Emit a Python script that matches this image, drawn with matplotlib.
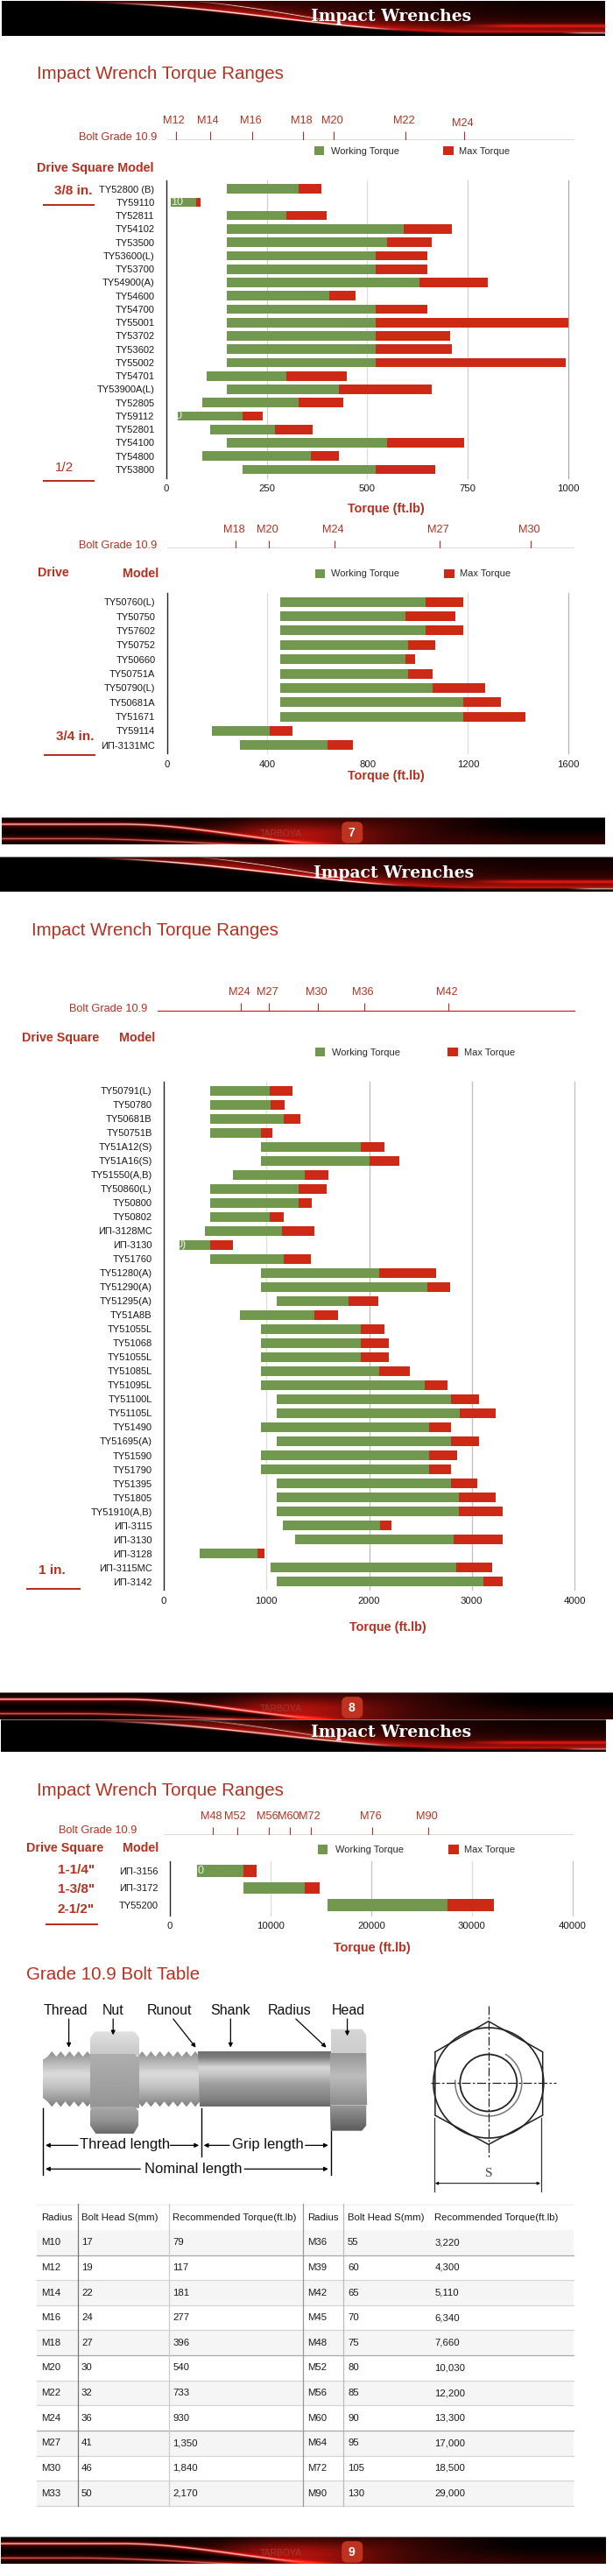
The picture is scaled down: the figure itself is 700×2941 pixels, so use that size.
import numpy as np
import matplotlib
matplotlib.use("Agg")
import matplotlib.pyplot as plt
from matplotlib.patches import Polygon, Rectangle, FancyBboxPatch, Circle, Arc

plt.rcParams['font.family'] = ['Liberation Sans', 'DejaVu Sans']

# ---------- data ----------
models_a = ["TY52800 (B)", "TY59110", "TY52811", "TY54102", "TY53500", "TY53600(L)", "TY53700", "TY54900(A)",
            "TY54600", "TY54700", "TY55001", "TY53702", "TY53602", "TY55002", "TY54701", "TY53900A(L)",
            "TY52805", "TY59112", "TY52801", "TY54100", "TY54800", "TY53800"]
start_a = [150, 12, 150, 150, 150, 150, 150, 150, 150, 150, 150, 150, 150, 150, 100, 150, 90, 30, 110, 150, 90, 190]
work_a = [330, 74, 300, 590, 550, 520, 520, 630, 405, 520, 520, 520, 520, 520, 300, 430, 330, 190, 270, 550, 360, 520]
max_a = [385, 85, 400, 710, 660, 650, 650, 800, 470, 650, 1000, 705, 710, 993, 450, 660, 440, 240, 365, 740, 430, 670]
bolt_a = ["M12", "M14", "M16", "M18", "M20", "M22", "M24"]
bolt_at_a = [24, 109, 214, 340, 417, 596, 741]

models_b = ["TY50760(L)", "TY50750", "TY57602", "TY50752", "TY50660", "TY50751A", "TY50790(L)", "TY50681A",
            "TY51671", "TY59114", "ИП-3131MC"]
start_b = [450, 450, 450, 450, 450, 450, 450, 450, 450, 180, 290]
work_b = [1030, 950, 1030, 960, 950, 960, 1060, 1180, 1180, 410, 640]
max_b = [1180, 1150, 1180, 1070, 990, 1060, 1270, 1330, 1430, 500, 740]
bolt_b = ["M18", "M20", "M24", "M27", "M30"]
bolt_at_b = [273, 407, 669, 1087, 1451]

models_c = ["TY50791(L)", "TY50780", "TY50681B", "TY50751B", "TY51A12(S)", "TY51A16(S)", "TY51550(A,B)", "TY50860(L)",
            "TY50800", "TY50802", "ИП-3128MC", "ИП-3130", "TY51760", "TY51280(A)", "TY51290(A)", "TY51295(A)",
            "TY51A8B", "TY51055L", "TY51068", "TY51055L", "TY51085L", "TY51095L", "TY51100L", "TY51105L",
            "TY51490", "TY51695(A)", "TY51590", "TY51790", "TY51395", "TY51805", "TY51910(A,B)", "ИП-3115",
            "ИП-3130", "ИП-3128", "ИП-3115MC", "ИП-3142"]
start_c = [450, 450, 450, 450, 950, 950, 670, 450, 450, 450, 400, 150, 450, 950, 950, 1100, 740, 950, 950, 950, 950,
           950, 1100, 1100, 950, 1100, 950, 950, 1100, 1100, 1100, 1160, 1280, 350, 1040, 1100]
work_c = [1030, 1040, 1170, 950, 1920, 2000, 1370, 1310, 1310, 1030, 1150, 450, 1170, 2100, 2570, 1800, 1470, 1920,
          1920, 1920, 2100, 2540, 2800, 2880, 2580, 2800, 2580, 2580, 2800, 2870, 2870, 2110, 2820, 910, 2850, 3110]
max_c = [1250, 1180, 1330, 1060, 2150, 2290, 1600, 1590, 1440, 1170, 1470, 670, 1430, 2650, 2790, 2090, 1700, 2150,
         2190, 2190, 2400, 2760, 3070, 3230, 2800, 3070, 2860, 2800, 3050, 3230, 3300, 2220, 3300, 980, 3200, 3300]
bolt_c = ["M24", "M27", "M30", "M36", "M42"]
bolt_at_c = [751, 1024, 1505, 1955, 2775]

models_d = ["ИП-3156", "ИП-3172", "TY55200"]
start_d = [2700, 7300, 15700]
work_d = [7300, 13400, 27600]
max_d = [8600, 14900, 32200]
bolt_d = ["M48", "M52", "M56", "M60", "M72", "M76", "M90"]
bolt_at_d = [4318, 6673, 9853, 11933, 14053, 20138, 25672]

ticks_a = [0, 250, 500, 750, 1000]
ticks_b = [0, 400, 800, 1200, 1600]
ticks_c = [0, 1000, 2000, 3000, 4000]
ticks_d = [0, 10000, 20000, 30000, 40000]

table_header = ["Radius", "Bolt Head S(mm)", "Recommended Torque(ft.lb)"]
radius_l = ["M10", "M12", "M14", "M16", "M18", "M20", "M22", "M24", "M27", "M30", "M33"]
head_l = ["17", "19", "22", "24", "27", "30", "32", "36", "41", "46", "50"]
torque_l = ["79", "117", "181", "277", "396", "540", "733", "930", "1,350", "1,840", "2,170"]
radius_r = ["M36", "M39", "M42", "M45", "M48", "M52", "M56", "M60", "M64", "M72", "M90"]
head_r = ["55", "60", "65", "70", "75", "80", "85", "90", "95", "105", "130"]
torque_r = ["3,220", "4,300", "5,110", "6,340", "7,660", "10,030", "12,200", "13,300", "17,000", "18,500", "29,000"]

# ---------- page ----------
W, H = 700, 2941
RED = "#b7301f"
GREEN = "#729850"
BAR_RED = "#cc2a17"
fig = plt.figure(figsize=(W / 100, H / 100), dpi=100, facecolor="white")


def px_axes(l, t, r, b):
    return fig.add_axes([l / W, 1 - b / H, (r - l) / W, (b - t) / H])


page = fig.add_axes([0, 0, 1, 1], zorder=5)
page.patch.set_visible(False)
page.axis("off")


def txt(x, y, s, size=8, color="#1a1a1a", ha="left", va="center", weight="normal", **kw):
    return page.text(x, y, s, fontsize=size, color=color, ha=ha, va=va, fontweight=weight, **kw)


def smooth(t):
    t = np.clip(t, 0, 1)
    return t * t * (3 - 2 * t)


def glow(v, c, w):
    return np.exp(-((v - c) / w) ** 2)


def header_img(w=700, h=40):
    u, v = np.meshgrid(np.linspace(0, 1, w), np.linspace(0, 1, h))
    b = 0.9 * smooth((u - 0.1) / 0.68)
    d = v - b
    fade = np.clip((u - 0.08) / 0.3, 0, 1)
    above = (0.12 + 0.72 * np.exp(np.minimum(d, 0) / 0.2)) * fade
    below = 0.8 * np.exp(-np.maximum(d, 0) / 0.03) * fade
    r = np.where(d < 0, above, below)
    r = r * (1 - 0.6 * smooth((u - 0.62) / 0.3) * (1 - v))
    r += 0.55 * glow(v, 0.72, 0.05) * smooth((u - 0.74) / 0.12)
    g = 0.1 * r
    bl = 0.07 * r
    w1 = glow(v, 0.04 + 0.86 * smooth((u - 0.14) / 0.62), 0.022) * smooth((u - 0.15) / 0.15) * (1 - smooth((u - 0.58) / 0.1))
    w2 = glow(v, 0.98 * smooth((u - 0.25) / 0.5) - 0.05, 0.015) * smooth((u - 0.3) / 0.1) * (1 - smooth((u - 0.5) / 0.1))
    w3 = glow(v, 0.93, 0.02) * smooth((u - 0.92) / 0.05)
    white = np.clip(w1 + 0.8 * w2 + 0.7 * w3, 0, 1)
    img = np.dstack([r, g, bl])
    img = img * (1 - white[..., None]) + white[..., None] * np.array([1, 0.9, 0.88])
    return np.clip(img, 0, 1)


def footer_img(w=700, h=31):
    u, v = np.meshgrid(np.linspace(0, 1, w), np.linspace(0, 1, h))
    left = 0.16 * (1 - smooth((u - 0.1) / 0.4)) * (0.3 + 0.7 * glow(v, 0.55, 0.4))
    c1 = 0.5 * glow(u, 0.48, 0.14) * smooth(v * 1.4 + 0.1)
    c2 = 0.2 * (1 - smooth((u - 0.62) / 0.28)) * smooth((u - 0.3) / 0.2)
    c3 = 0.16 * smooth((u - 0.65) / 0.2) * smooth((v - 0.3) / 0.7)
    s1c = 0.25 + 0.8 * smooth((u - 0.2) / 0.38)
    s2c = 0.8 + 0.3 * smooth((u - 0.12) / 0.4)
    s1 = 0.55 * glow(v, s1c, 0.07) * (1 - smooth((u - 0.5) / 0.08))
    s2 = 0.45 * glow(v, s2c, 0.06) * (1 - smooth((u - 0.42) / 0.08))
    black = glow(v, 0.55 + 0.4 * smooth((u - 0.15) / 0.38), 0.12) * (1 - smooth((u - 0.42) / 0.08))
    r = (left + c1 + c2 + c3) * (1 - 0.9 * black) + s1 + s2
    img = np.dstack([r, 0.1 * r, 0.07 * r])
    white = np.clip(0.8 * glow(v, s1c, 0.03) * (1 - smooth((u - 0.42) / 0.12))
                    + 0.4 * glow(v, s2c, 0.025) * (1 - smooth((u - 0.4) / 0.1)), 0, 1)
    img = img * (1 - white[..., None]) + white[..., None] * np.array([1, 0.85, 0.82])
    return np.clip(img, 0, 1)


def header(l, r, t, b, cx, cy):
    page.imshow(header_img(), extent=(l, r, b, t), aspect="auto", zorder=1, interpolation="bilinear")
    page.add_patch(Rectangle((l, t), r - l, 0.8, fc="#777777", ec="none", zorder=2))
    txt(cx, cy, "Impact Wrenches", size=13.5, color="white", ha="center", weight="bold",
        family="DejaVu Serif", zorder=3)


def footer(l, r, t, b, number):
    page.imshow(footer_img(), extent=(l, r, b, t), aspect="auto", zorder=1, interpolation="bilinear")
    page.add_patch(Rectangle((l, t), r - l, 0.8, fc="#777777", ec="none", zorder=2))
    txt(321, t + 19, "TARBOYA", size=7.5, color="#9b3a30", ha="center", zorder=3)
    page.add_patch(FancyBboxPatch((393, t + 8), 18.5, 19, boxstyle="round,pad=0,rounding_size=3.5",
                                  fc="#bd3320", ec="#bd3320", lw=4, zorder=3))
    txt(401, t + 18, number, size=10, color="white", ha="center", weight="bold", zorder=4)


header(2.3, 691, 1.5, 40.7, 447, 19)
footer(2.3, 691, 933, 964, "7")
header(0, 700, 978, 1017.7, 450, 997)
footer(0, 700, 1932, 1963, "8")
header(1.4, 692, 1963, 2000, 447, 1978)
footer(1.4, 692, 2896, 2926.7, "9")

# ---------- charts ----------
def chart(rect, models, start, work, top, ticks, first, step, bar_px, grid, tags=None, pad=9.5):
    l, t, r, b = rect
    ax = px_axes(l, t, r, b)
    n = len(models)
    y = np.arange(n)
    last = first + (n - 1) * step
    ax.set_ylim(n - 1 + (b - last) / step, -(first - t) / step)
    ax.set_xlim(ticks[0], ticks[-1])
    ax.patch.set_visible(False)
    for tick, c in zip(ticks[1:], grid):
        ax.axvline(tick, color=c, lw=0.9, zorder=0, clip_on=False)
    start, work, top = map(np.array, (start, work, top))
    greens = ax.barh(y, work - start, left=start, height=bar_px / step, color=GREEN, zorder=2)
    ax.barh(y, top - work, left=work, height=bar_px / step, color=BAR_RED, zorder=2)
    for i, (s, off) in (tags or {}).items():
        tt = ax.annotate(s, (start[i], i), xytext=(off, 0), textcoords="offset pixels", color="#e8f0e0",
                         fontsize=9, va="center", ha="left", zorder=3)
        tt.set_clip_path(greens[i])
    ax.set_yticks(y, models)
    ax.set_xticks(ticks, [str(k) for k in ticks])
    ax.tick_params(axis="y", length=0, pad=pad, labelsize=8, labelcolor="#1a1a1a")
    ax.tick_params(axis="x", length=0, pad=5.5, labelsize=8.2, labelcolor="#1a1a1a")
    for s in ("top", "right", "bottom"):
        ax.spines[s].set_visible(False)
    ax.spines["left"].set_linewidth(1.0)
    ax.spines["left"].set_color("#222222")
    return ax


def bolt_scale(x0px, pxperunit, line_l, line_r, y, tick_len, labels, pos, label_y, grade_r, grade_y, lifts=None):
    ax = px_axes(line_l, y - tick_len, line_r, y + 0.6)
    ax.set_xlim((line_l - x0px) / pxperunit, (line_r - x0px) / pxperunit)
    ax.set_ylim(0, 1)
    ax.axis("off")
    ax.patch.set_visible(False)
    ax.axhline(0.03, color=RED, lw=1.0)
    ax.vlines(pos, 0, 1, color=RED, lw=0.8)
    for k, (name, p) in enumerate(zip(labels, pos)):
        drop = (lifts or {}).get(k, 0)
        ax.annotate(name, (p, 1), xytext=(-2, (y - tick_len - label_y - drop)), textcoords="offset pixels",
                    color=RED, fontsize=9.2, ha="center", va="center", annotation_clip=False)
    txt(grade_r, grade_y, "Bolt Grade 10.9", size=9.2, color=RED, ha="right")


def legend(gx, rx, ytop, ybot, gt, rt, ty):
    page.add_patch(Rectangle((gx, ytop), 11, ybot - ytop, fc=GREEN, ec="none"))
    page.add_patch(Rectangle((rx, ytop), 12, ybot - ytop, fc=BAR_RED, ec="none"))
    txt(gt, ty, "Working Torque", size=8, color="#2a2a2a")
    txt(rt, ty, "Max Torque", size=8, color="#2a2a2a")


def underline(x0, x1, y):
    page.add_patch(Rectangle((x0, y - 1), x1 - x0, 2, fc=RED, ec="none"))


# chart A
chart((189.7, 206, 649, 545.7), models_a, start_a, work_a, max_a, ticks_a, 215.7, 15.25, 10.6,
      ["#cfcfcf", "#dddddd", "#cfcfcf", "#aaaaaa"], tags={1: ("10", 0), 17: ("0", -3)})
bolt_scale(189.7, 459.3 / 1000, 190.6, 656, 159.3, 9, bolt_a, bolt_at_a, 138, 179, 156.7, lifts={6: 2.5})
txt(42, 85, "Impact Wrench Torque Ranges", size=14.8, color=RED, va="center")
txt(42, 191.7, "Drive Square Model", size=10.3, color=RED, weight="bold")
legend(359, 506, 167, 177, 377.6, 524, 172.5)
txt(62.5, 218.5, "3/8 in.", size=11, color=RED, weight="bold")
underline(48.8, 108.4, 234)
txt(63, 534, "1/2", size=11, color=RED)
underline(48.8, 108.4, 548.7)
txt(441, 580.7, "Torque (ft.lb)", size=10.4, color=RED, ha="center", weight="bold")

# chart B
chart((190.6, 677.3, 649, 860), models_b, start_b, work_b, max_b, ticks_b, 687.3, 16.34, 11,
      ["#dddddd", "#ffffff", "#dddddd", "#b5b5b5"])
bolt_scale(190.6, 458.4 / 1600, 190.6, 656, 625.3, 8, bolt_b, bolt_at_b, 604.7, 179, 623.3)
txt(43, 654, "Drive", size=10.3, color=RED, weight="bold")
txt(140, 655.3, "Model", size=10.3, color=RED, weight="bold")
legend(360, 507, 650, 660, 378.5, 525, 655.3)
txt(63.5, 840.7, "3/4 in.", size=11, color=RED, weight="bold")
underline(49.7, 109.3, 861.7)
txt(441, 885.7, "Torque (ft.lb)", size=10.4, color=RED, ha="center", weight="bold")

# chart C
chart((187, 1235, 656, 1815), models_c, start_c, work_c, max_c, ticks_c, 1245, 16.02, 11,
      ["#dddddd", "#bdbdbd", "#bdbdbd", "#bdbdbd"], tags={11: ("0)", -3)})
bolt_scale(187, 469 / 4000, 180.2, 656.7, 1154, 9, bolt_c, bolt_at_c, 1132.7, 168.5, 1151.7)
txt(36, 1063, "Impact Wrench Torque Ranges", size=14.8, color=RED)
txt(24.8, 1185, "Drive Square", size=10.3, color=RED, weight="bold")
txt(136, 1185, "Model", size=10.3, color=RED, weight="bold")
legend(360, 511, 1196, 1206, 379.4, 530, 1201.7)
txt(43.8, 1792.7, "1 in.", size=11, color=RED, weight="bold")
underline(30.2, 91.7, 1814.3)
txt(442.6, 1858, "Torque (ft.lb)", size=10.4, color=RED, ha="center", weight="bold")

# chart D
chart((193.8, 2125, 654, 2186.7), models_d, start_d, work_d, max_d, ticks_d, 2136, 19.4, 13.8,
      ["#dddddd", "#c4c4c4", "#dddddd", "#c4c4c4"], tags={0: ("0", 1)})
bolt_scale(193.8, 460.2 / 40000, 187, 654.5, 2094.7, 8.7, bolt_d, bolt_at_d, 2073.7, 156.3, 2090)
txt(42, 2044, "Impact Wrench Torque Ranges", size=14.8, color=RED)
txt(30.3, 2110, "Drive Square", size=10.3, color=RED, weight="bold")
txt(140, 2110.5, "Model", size=10.3, color=RED, weight="bold")
legend(363, 512, 2105.7, 2116.7, 382.6, 530, 2112)
for label, yy in zip(['1-1/4"', '1-3/8"', '2-1/2"'], (2135, 2156.7, 2180)):
    txt(87, yy, label, size=11, color=RED, ha="center", weight="bold")
underline(52.4, 112, 2197.3)
txt(425, 2224.3, "Torque (ft.lb)", size=10.4, color=RED, ha="center", weight="bold")

# ---------- bolt illustration ----------
txt(30, 2254.5, "Grade 10.9 Bolt Table", size=14.8, color=RED)


def P(X, Y):
    return (X / 2.214, 2210 + Y / 3)


def shaded(pts, stops, horizontal=False, z=2):
    pts = [P(*p) for p in pts]
    xs, ys = zip(*pts)
    pos, cols = zip(*stops)
    t = np.linspace(0, 1, 128)
    grad = np.interp(t, pos, cols)
    arr = grad[None, :] if horizontal else grad[:, None]
    im = page.imshow(arr, cmap="gray", vmin=0, vmax=1, extent=(min(xs), max(xs), max(ys), min(ys)),
                     aspect="auto", zorder=z, interpolation="bilinear")
    im.set_clip_path(Polygon(pts, transform=page.transData))


def threads(x0, x1, n):
    xs = np.linspace(x0, x1, 2 * n + 1)
    top = [(x, 396 if k % 2 else 414) for k, x in enumerate(xs)]
    bot = [(x, 586 if k % 2 else 568) for k, x in enumerate(xs)]
    return top, bot[::-1]


thread_stops = [(0, .55), (.22, .72), (.42, .86), (.65, .76), (.85, .62), (1, .5)]
top, bot = threads(120, 232, 5)
shaded([(108, 425)] + top + bot + [(108, 555)], thread_stops)
top, bot = threads(348, 505, 7)
shaded(top + bot, thread_stops)
shaded([(500, 395), (836, 395), (836, 585), (505, 585)],
       [(0, .42), (.12, .5), (.3, .84), (.42, .78), (.6, .62), (.85, .52), (1, .42)])
# nut
shaded([(228, 350), (240, 328), (340, 328), (352, 350), (352, 410), (228, 410)], [(0, .88), (1, .78)], z=3)
shaded([(228, 405), (340, 405), (352, 420), (352, 590), (228, 590)], [(0, .68), (.5, .64), (1, .58)], z=3)
shaded([(232, 585), (340, 585), (350, 600), (350, 650), (338, 678), (242, 678), (228, 650), (228, 600)],
       [(0, .66), (.5, .58), (1, .42)], z=3)
# head
shaded([(836, 320), (915, 320), (926, 340), (926, 405), (836, 405)], [(0, .84), (1, .8)], z=3)
shaded([(834, 402), (926, 402), (928, 580), (834, 580)], [(0, .58), (.45, .74), (1, .55)], z=3)
shaded([(834, 580), (926, 580), (926, 650), (915, 668), (836, 668)], [(0, .6), (1, .36)], z=3)

for name, cx in zip(["Thread", "Nut", "Runout", "Shank", "Radius", "Head"], (167, 286, 428, 583, 733, 880)):
    txt(*P(cx, 258), name, size=11.5, color="#111111", ha="center")


def arrow(a, b, lw=0.9, ms=7):
    page.annotate("", xy=P(*b), xytext=P(*a), zorder=6,
                  arrowprops=dict(arrowstyle="-|>", color="black", lw=lw, mutation_scale=ms, shrinkA=0, shrinkB=0))


for a, b in [((174, 285), (174, 383)), ((286, 285), (286, 340)), ((438, 285), (495, 383)),
             ((583, 285), (583, 383)), ((748, 285), (825, 383)), ((878, 285), (878, 343))]:
    arrow(a, b)
for a, b in [((197, 718), (115, 718)), ((430, 718), (503, 718)), ((580, 718), (515, 718)), ((772, 718), (830, 718)),
             ((355, 799), (115, 799)), ((618, 799), (830, 799))]:
    arrow(a, b)
for X, y0, y1 in [(108, 590, 818), (509, 590, 755), (836, 670, 818)]:
    page.plot(*zip(P(X, y0), P(X, y1)), color="black", lw=1, zorder=6)
txt(*P(315, 716), "Thread length", size=12, color="#111111", ha="center", zorder=6)
txt(*P(677, 716), "Grip length", size=12, color="#111111", ha="center", zorder=6)
txt(*P(488, 798), "Nominal length", size=12, color="#111111", ha="center", zorder=6)

# hexagon end view
hex_pts = [P(1235, 293), P(1372, 398), P(1372, 615), P(1235, 715), P(1100, 615), P(1100, 398)]
page.add_patch(Polygon(hex_pts, closed=True, fc="none", ec="#222222", lw=1.1, zorder=4))
cx, cy = P(1235, 504)
page.add_patch(Circle((cx, cy), 63, fc="none", ec="#222222", lw=1.2, zorder=4))
page.add_patch(Circle((cx, cy), 32.5, fc="none", ec="#222222", lw=1.3, zorder=4))
page.add_patch(Arc((cx, cy), 76, 76, theta1=-60, theta2=185, fc="none", ec="#777777", lw=1.1, zorder=4))
page.plot(*zip(P(1090, 504), P(1405, 504)), color="#222222", lw=0.9, ls=(0, (8, 2, 2, 2)), zorder=4)
page.plot(*zip(P(1235, 240), P(1235, 765)), color="#222222", lw=0.9, ls=(0, (8, 2, 2, 2)), zorder=4)
for X in (1098, 1368):
    page.plot(*zip(P(X, 625), P(X, 875)), color="#333333", lw=0.9, zorder=4)
arrow((1235, 848), (1100, 848), lw=0.7, ms=5)
arrow((1235, 848), (1366, 848), lw=0.7, ms=5)
txt(*P(1235, 815), "S", size=11, color="#444444", ha="center", family="Liberation Serif")

# ---------- table ----------
tx0, tx1 = 41.5, 654.5
ty0, row_h = 2517.3, 28.62
hdr_h = 28.7
col_text = [47.4, 93, 197.4, 351.4, 397, 496.4]
nrows = len(radius_l)
for i in range(nrows):
    y0 = ty0 + hdr_h + i * row_h
    if i % 2 == 0:
        page.add_patch(Rectangle((tx0, y0), tx1 - tx0, row_h, fc="#f5f5f5", ec="none", zorder=1))
    lc = "#a8a8a8" if i in (0, 4, 7) else "#d5d5d5"
    page.plot([tx0, tx1], [y0 + row_h, y0 + row_h], color=lc, lw=0.9, zorder=2)
    rowvals = (radius_l[i], head_l[i], torque_l[i], radius_r[i], head_r[i], torque_r[i])
    for xx, s in zip(col_text, rowvals):
        txt(xx, y0 + row_h / 2, s, size=8.2, zorder=3)
for xx, s in zip(col_text, table_header + table_header):
    txt(xx, ty0 + hdr_h / 2 + 0.5, s, size=8.2, zorder=3)
page.plot([tx0, tx1], [ty0, ty0], color="#eeeeee", lw=0.8, zorder=2)
for xx, c in zip((88.5, 192.9, 346.4, 392), ("#777777", "#cccccc", "#999999", "#bbbbbb")):
    page.plot([xx, xx], [ty0 - 1, ty0 + hdr_h + nrows * row_h], color=c, lw=0.9, zorder=2)

page.set_xlim(0, W)
page.set_ylim(H, 0)
fig.savefig("out.png", dpi=100, facecolor="white")
